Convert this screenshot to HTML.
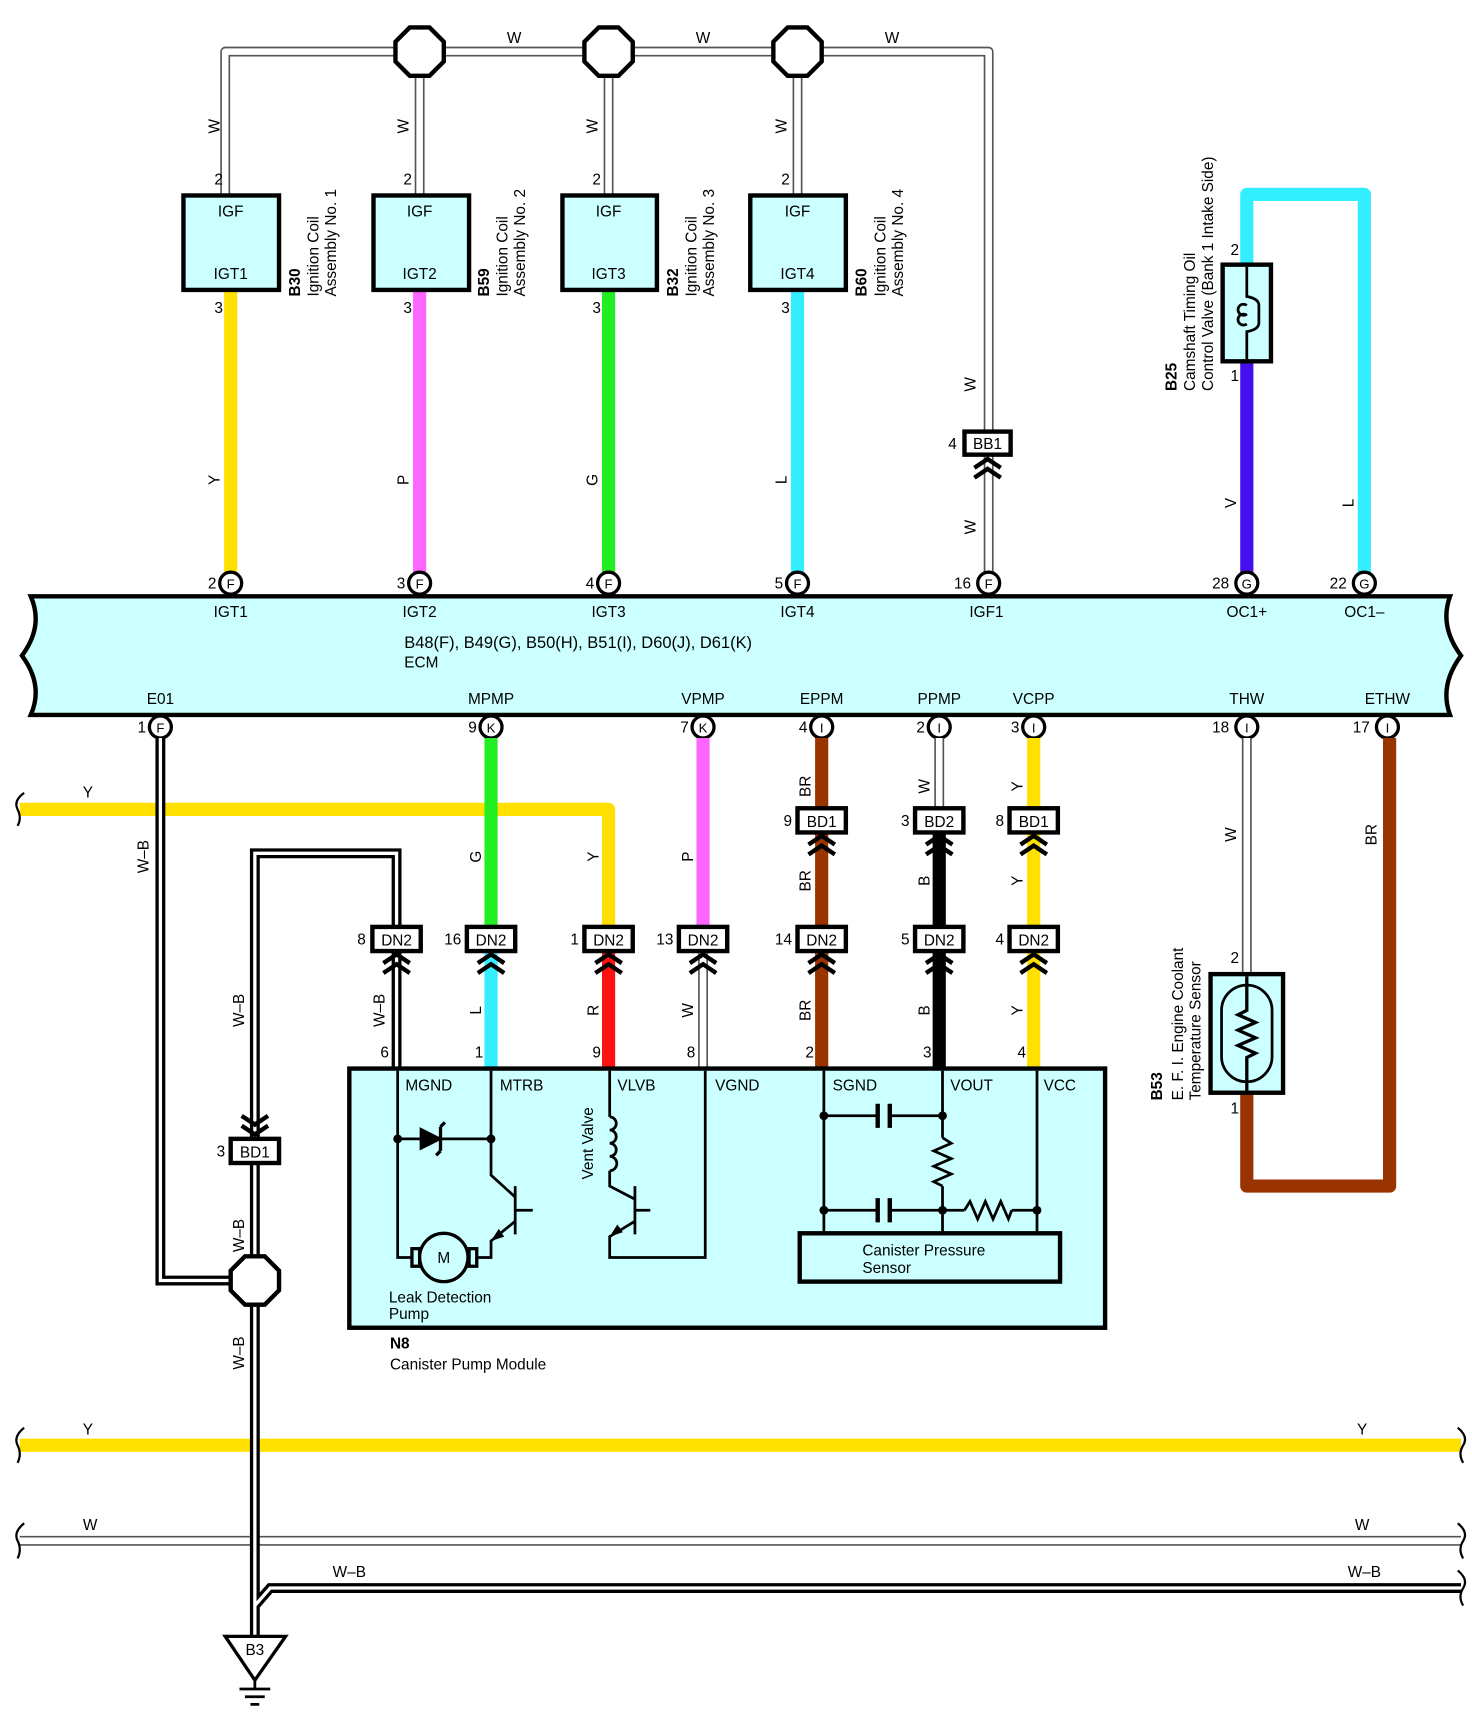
<!DOCTYPE html>
<html><head><meta charset="utf-8"><style>
html,body{margin:0;padding:0;background:#fff;}
svg{display:block;}
text{font-family:"Liberation Sans",sans-serif;font-size:14px;fill:#000;}
.c{text-anchor:middle;}
.e{text-anchor:end;}
.b{font-weight:bold;}
</style></head><body>
<svg width="1472" height="1722" viewBox="0 0 1340 1568" preserveAspectRatio="none" xmlns="http://www.w3.org/2000/svg">
<defs>
<g id="chev" fill="none" stroke="#000" stroke-width="4"><polyline points="-12,8 0,0 12,8"/><polyline points="-12,17 0,9 12,17"/></g>
<g id="chevd" fill="none" stroke="#000" stroke-width="4"><polyline points="-12,0 0,8 12,0"/><polyline points="-12,9 0,17 12,9"/></g>
</defs>

<!-- Top white wire -->
<g fill="none" stroke-linejoin="round">
<path d="M205,178 V47 H900 V393 M382,47 V178 M554,47 V178 M726,47 V178 M900,413 V531" stroke="#555" stroke-width="9"/>
<path d="M205,178 V47 H900 V393 M382,47 V178 M554,47 V178 M726,47 V178 M900,413 V531" stroke="#fff" stroke-width="6"/>
</g>
<!-- colored top wires -->
<g fill="none" stroke-width="12">
<path d="M210,264 V531" stroke="#FFE000"/>
<path d="M382,264 V531" stroke="#FF66FF"/>
<path d="M554,264 V531" stroke="#22EE22"/>
<path d="M726,264 V531" stroke="#33EEFF"/>
<path d="M1135,241 V177 H1242 V531" stroke="#33EEFF" stroke-linejoin="round"/>
<path d="M1135,329 V531" stroke="#4411EE"/>
</g>
<!-- splices -->
<g fill="#fff" stroke="#000" stroke-width="4">
<polygon points="373,25 391,25 404,38 404,56 391,69 373,69 360,56 360,38"/>
<polygon points="545,25 563,25 576,38 576,56 563,69 545,69 532,56 532,38"/>
<polygon points="717,25 735,25 748,38 748,56 735,69 717,69 704,56 704,38"/>
</g>
<text x="468" y="39" class="c">W</text><text x="640" y="39" class="c">W</text><text x="812" y="39" class="c">W</text>

<!-- coils -->
<g fill="#CCFFFF" stroke="#000" stroke-width="4">
<rect x="167" y="178" width="87" height="86"/><rect x="340" y="178" width="87" height="86"/>
<rect x="512" y="178" width="86" height="86"/><rect x="683" y="178" width="87" height="86"/>
</g>
<text x="210" y="197" class="c">IGF</text><text x="210" y="254" class="c">IGT1</text>
<text x="382" y="197" class="c">IGF</text><text x="382" y="254" class="c">IGT2</text>
<text x="554" y="197" class="c">IGF</text><text x="554" y="254" class="c">IGT3</text>
<text x="726" y="197" class="c">IGF</text><text x="726" y="254" class="c">IGT4</text>
<g>
<text x="203" y="168" class="e">2</text><text x="203" y="285" class="e">3</text>
<text x="375" y="168" class="e">2</text><text x="375" y="285" class="e">3</text>
<text x="547" y="168" class="e">2</text><text x="547" y="285" class="e">3</text>
<text x="719" y="168" class="e">2</text><text x="719" y="285" class="e">3</text>
</g>
<g class="c">
<text transform="translate(200,115) rotate(-90)" class="c">W</text><text transform="translate(200,437) rotate(-90)" class="c">Y</text>
<text transform="translate(372,115) rotate(-90)" class="c">W</text><text transform="translate(372,437) rotate(-90)" class="c">P</text>
<text transform="translate(544,115) rotate(-90)" class="c">W</text><text transform="translate(544,437) rotate(-90)" class="c">G</text>
<text transform="translate(716,115) rotate(-90)" class="c">W</text><text transform="translate(716,437) rotate(-90)" class="c">L</text>
<text transform="translate(888,350) rotate(-90)" class="c">W</text><text transform="translate(888,480) rotate(-90)" class="c">W</text>
<text transform="translate(1125,458) rotate(-90)" class="c">V</text><text transform="translate(1232,458) rotate(-90)" class="c">L</text>
</g>
<!-- coil labels -->
<g>
<text transform="translate(273,270) rotate(-90)" class="b">B30</text>
<text transform="translate(290,270) rotate(-90)">Ignition Coil</text>
<text transform="translate(306,270) rotate(-90)">Assembly No. 1</text>
<text transform="translate(445,270) rotate(-90)" class="b">B59</text>
<text transform="translate(462,270) rotate(-90)">Ignition Coil</text>
<text transform="translate(478,270) rotate(-90)">Assembly No. 2</text>
<text transform="translate(617,270) rotate(-90)" class="b">B32</text>
<text transform="translate(634,270) rotate(-90)">Ignition Coil</text>
<text transform="translate(650,270) rotate(-90)">Assembly No. 3</text>
<text transform="translate(789,270) rotate(-90)" class="b">B60</text>
<text transform="translate(806,270) rotate(-90)">Ignition Coil</text>
<text transform="translate(822,270) rotate(-90)">Assembly No. 4</text>
<text transform="translate(1071,356) rotate(-90)" class="b">B25</text>
<text transform="translate(1088,356) rotate(-90)">Camshaft Timing Oil</text>
<text transform="translate(1104,356) rotate(-90)">Control Valve (Bank 1 Intake Side)</text>
</g>
<!-- BB1 -->
<rect x="878" y="393" width="42" height="21" fill="#fff" stroke="#000" stroke-width="4"/>
<text x="899" y="409" class="c">BB1</text><text x="871" y="409" class="e">4</text>
<use href="#chev" x="899" y="418"/>
<!-- B25 -->
<rect x="1113" y="241" width="44" height="88" fill="#CCFFFF" stroke="#000" stroke-width="4"/>
<path d="M1135,243 V270 Q1146,272 1146,278 M1135,327 V302 Q1146,300 1146,294 M1146,278 V294 M1135,278 a5,5 0 1,0 0,8 M1135,287 a5,5 0 1,0 0,8" fill="none" stroke="#000" stroke-width="2.5"/>
<text x="1128" y="232" class="e">2</text><text x="1128" y="347" class="e">1</text>

<!-- ECM -->
<path d="M28,543 H1320 Q1310,570 1330,597 Q1310,624 1320,651 H28 Q40,624 20,597 Q40,570 28,543 Z" fill="#CCFFFF" stroke="#000" stroke-width="4"/>
<g fill="#fff" stroke="#000" stroke-width="3">
<circle cx="210" cy="531" r="10"/><circle cx="382" cy="531" r="10"/><circle cx="554" cy="531" r="10"/><circle cx="726" cy="531" r="10"/><circle cx="900" cy="531" r="10"/><circle cx="1135" cy="531" r="10"/><circle cx="1242" cy="531" r="10"/>
<circle cx="146" cy="662" r="10"/><circle cx="447" cy="662" r="10"/><circle cx="640" cy="662" r="10"/><circle cx="748" cy="662" r="10"/><circle cx="855" cy="662" r="10"/><circle cx="941" cy="662" r="10"/><circle cx="1135" cy="662" r="10"/><circle cx="1263" cy="662" r="10"/>
</g>
<g style="font-size:12px">
<text x="210" y="536" class="c" style="font-size:12px">F</text><text x="382" y="536" class="c" style="font-size:12px">F</text><text x="554" y="536" class="c" style="font-size:12px">F</text><text x="726" y="536" class="c" style="font-size:12px">F</text><text x="900" y="536" class="c" style="font-size:12px">F</text><text x="1135" y="536" class="c" style="font-size:12px">G</text><text x="1242" y="536" class="c" style="font-size:12px">G</text>
<text x="146" y="667" class="c" style="font-size:12px">F</text><text x="447" y="667" class="c" style="font-size:12px">K</text><text x="640" y="667" class="c" style="font-size:12px">K</text><text x="748" y="667" class="c" style="font-size:12px">I</text><text x="855" y="667" class="c" style="font-size:12px">I</text><text x="941" y="667" class="c" style="font-size:12px">I</text><text x="1135" y="667" class="c" style="font-size:12px">I</text><text x="1263" y="667" class="c" style="font-size:12px">I</text>
</g>
<text x="197" y="536" class="e">2</text><text x="369" y="536" class="e">3</text><text x="541" y="536" class="e">4</text><text x="713" y="536" class="e">5</text><text x="884" y="536" class="e">16</text><text x="1119" y="536" class="e">28</text><text x="1226" y="536" class="e">22</text>
<text x="133" y="667" class="e">1</text><text x="434" y="667" class="e">9</text><text x="627" y="667" class="e">7</text><text x="735" y="667" class="e">4</text><text x="842" y="667" class="e">2</text><text x="928" y="667" class="e">3</text><text x="1119" y="667" class="e">18</text><text x="1247" y="667" class="e">17</text>
<text x="210" y="562" class="c">IGT1</text><text x="382" y="562" class="c">IGT2</text><text x="554" y="562" class="c">IGT3</text><text x="726" y="562" class="c">IGT4</text><text x="898" y="562" class="c">IGF1</text><text x="1135" y="562" class="c">OC1+</text><text x="1242" y="562" class="c">OC1–</text>
<text x="368" y="590" style="font-size:15px">B48(F), B49(G), B50(H), B51(I), D60(J), D61(K)</text>
<text x="368" y="608">ECM</text>
<text x="146" y="641" class="c">E01</text><text x="447" y="641" class="c">MPMP</text><text x="640" y="641" class="c">VPMP</text><text x="748" y="641" class="c">EPPM</text><text x="855" y="641" class="c">PPMP</text><text x="941" y="641" class="c">VCPP</text><text x="1135" y="641" class="c">THW</text><text x="1263" y="641" class="c">ETHW</text>

<!-- lower colored wires -->
<g fill="none" stroke-width="12" stroke-linejoin="round">
<path d="M18,737 H554 V845" stroke="#FFE000"/>
<path d="M447,672 V845" stroke="#22EE22"/>
<path d="M447,866 V973" stroke="#33EEFF"/>
<path d="M554,866 V973" stroke="#FF1111"/>
<path d="M640,672 V845" stroke="#FF66FF"/>
<path d="M748,672 V973" stroke="#993300"/>
<path d="M855,757 V973" stroke="#000"/>
<path d="M941,672 V973" stroke="#FFE000"/>
<path d="M1135,995 V1080 H1265 V672" stroke="#993300"/>
<path d="M18,1316 H1330" stroke="#FFE000"/>
</g>
<!-- white wires lower -->
<g fill="none">
<path d="M855,672 V737 M640,866 V973 M1135,672 V887 M18,1403 H1330" stroke="#555" stroke-width="9"/>
<path d="M855,672 V737 M640,866 V973 M1135,672 V887 M18,1403 H1330" stroke="#fff" stroke-width="6"/>
</g>
<!-- W-B wires -->
<g fill="none" stroke-linejoin="miter">
<path d="M146,672 V1166 H210 M361,973 V777 H232 V1490 M232,1462 L246,1446 H1330" stroke="#000" stroke-width="9"/>
<path d="M146,672 V1166 H210 M361,973 V777 H232 V1490 M232,1462 L246,1446 H1330" stroke="#fff" stroke-width="3"/>
</g>
<!-- splice lower -->
<polygon points="223,1144 241,1144 254,1157 254,1175 241,1188 223,1188 210,1175 210,1157" fill="#fff" stroke="#000" stroke-width="4"/>

<!-- connectors -->
<g fill="#fff" stroke="#000" stroke-width="4">
<rect x="339" y="844" width="44" height="22"/><rect x="425" y="844" width="44" height="22"/><rect x="532" y="844" width="44" height="22"/><rect x="618" y="844" width="44" height="22"/><rect x="726" y="844" width="44" height="22"/><rect x="833" y="844" width="44" height="22"/><rect x="919" y="844" width="44" height="22"/>
<rect x="726" y="736" width="44" height="22"/><rect x="833" y="736" width="44" height="22"/><rect x="919" y="736" width="44" height="22"/>
<rect x="210" y="1037" width="44" height="22"/>
</g>
<g class="c">
<text x="361" y="861" class="c">DN2</text><text x="447" y="861" class="c">DN2</text><text x="554" y="861" class="c">DN2</text><text x="640" y="861" class="c">DN2</text><text x="748" y="861" class="c">DN2</text><text x="855" y="861" class="c">DN2</text><text x="941" y="861" class="c">DN2</text>
<text x="748" y="753" class="c">BD1</text><text x="855" y="753" class="c">BD2</text><text x="941" y="753" class="c">BD1</text><text x="232" y="1054" class="c">BD1</text>
</g>
<text x="333" y="860" class="e">8</text><text x="420" y="860" class="e">16</text><text x="527" y="860" class="e">1</text><text x="613" y="860" class="e">13</text><text x="721" y="860" class="e">14</text><text x="828" y="860" class="e">5</text><text x="914" y="860" class="e">4</text>
<text x="721" y="752" class="e">9</text><text x="828" y="752" class="e">3</text><text x="914" y="752" class="e">8</text><text x="205" y="1053" class="e">3</text>
<use href="#chev" x="361" y="869"/><use href="#chev" x="447" y="869"/><use href="#chev" x="554" y="869"/><use href="#chev" x="640" y="869"/><use href="#chev" x="748" y="869"/><use href="#chev" x="855" y="869"/><use href="#chev" x="941" y="869"/>
<use href="#chev" x="748" y="761"/><use href="#chev" x="855" y="761"/><use href="#chev" x="941" y="761"/>
<use href="#chevd" x="232" y="1016"/>

<!-- wire labels lower -->
<text x="80" y="726" class="c">Y</text>
<g>
<text transform="translate(135,780) rotate(-90)" class="c">W–B</text>
<text transform="translate(222,920) rotate(-90)" class="c">W–B</text>
<text transform="translate(222,1125) rotate(-90)" class="c">W–B</text>
<text transform="translate(222,1232) rotate(-90)" class="c">W–B</text>
<text transform="translate(350,920) rotate(-90)" class="c">W–B</text>
<text transform="translate(438,920) rotate(-90)" class="c">L</text>
<text transform="translate(545,920) rotate(-90)" class="c">R</text>
<text transform="translate(631,920) rotate(-90)" class="c">W</text>
<text transform="translate(738,920) rotate(-90)" class="c">BR</text>
<text transform="translate(846,920) rotate(-90)" class="c">B</text>
<text transform="translate(931,920) rotate(-90)" class="c">Y</text>
<text transform="translate(438,780) rotate(-90)" class="c">G</text>
<text transform="translate(545,780) rotate(-90)" class="c">Y</text>
<text transform="translate(631,780) rotate(-90)" class="c">P</text>
<text transform="translate(738,716) rotate(-90)" class="c">BR</text>
<text transform="translate(738,802) rotate(-90)" class="c">BR</text>
<text transform="translate(846,716) rotate(-90)" class="c">W</text>
<text transform="translate(846,802) rotate(-90)" class="c">B</text>
<text transform="translate(931,716) rotate(-90)" class="c">Y</text>
<text transform="translate(931,802) rotate(-90)" class="c">Y</text>
<text transform="translate(1125,760) rotate(-90)" class="c">W</text>
<text transform="translate(1253,760) rotate(-90)" class="c">BR</text>
</g>

<!-- module -->
<rect x="318" y="973" width="688" height="236" fill="#CCFFFF" stroke="#000" stroke-width="4"/>
<g fill="none" stroke="#000" stroke-width="2.5">
<path d="M362,975 V1145 H375 M447,975 V1070 L469,1090 M469,1112 L447,1130 V1145 H434 M469,1080 V1124 M469,1102 H485"/>
<path d="M362,1037 H447"/>
<path d="M555,975 V1017 M555,1066 V1080 L578,1092 M578,1112 L555,1126 V1145 H642 V975 M578,1080 V1124 M578,1102 H592"/>
<path d="M555,1017 a6,6 0 1,1 0,12 a6,6 0 1,1 0,12 a6,6 0 1,1 0,12 a6,6 0 0,1 0,13"/>
<path d="M750,975 V1123 M858,975 V1036 M858,1080 V1123 M944,975 V1123 M750,1016 H799 M810,1016 H858 M750,1102 H799 M810,1102 H858 M858,1102 H878 M921,1102 H944"/>
<path d="M858,1036 l8,5 -16,7 16,7 -16,7 16,7 -16,7 8,4"/>
<path d="M878,1102 l5,-8 7,16 7,-16 7,16 7,-16 7,16 3,-8"/>
</g>
<g stroke="#000" stroke-width="4"><path d="M799,1005 V1027 M810,1005 V1027 M799,1091 V1113 M810,1091 V1113"/></g>
<polygon points="383,1028 383,1046 401,1037" fill="#000" stroke="#000" stroke-width="2"/>
<path d="M401,1026 V1048 M401,1026 l4,-4 M401,1048 l-4,4" stroke="#000" stroke-width="3" fill="none"/>
<polygon points="447,1130 454,1119 459,1126" fill="#000"/>
<polygon points="555,1126 562,1115 567,1122" fill="#000"/>
<g fill="#000"><circle cx="362" cy="1037" r="4"/><circle cx="447" cy="1037" r="4"/><circle cx="750" cy="1016" r="4"/><circle cx="858" cy="1016" r="4"/><circle cx="750" cy="1102" r="4"/><circle cx="858" cy="1102" r="4"/><circle cx="944" cy="1102" r="4"/></g>
<!-- motor -->
<rect x="375" y="1137" width="7" height="16" fill="none" stroke="#000" stroke-width="3"/>
<rect x="427" y="1137" width="7" height="16" fill="none" stroke="#000" stroke-width="3"/>
<circle cx="404" cy="1145" r="22" fill="#CCFFFF" stroke="#000" stroke-width="3"/>
<text x="404" y="1150" class="c">M</text>
<rect x="728" y="1123" width="237" height="44" fill="#CCFFFF" stroke="#000" stroke-width="4"/>
<text x="785" y="1143">Canister Pressure</text><text x="785" y="1159">Sensor</text>
<text x="369" y="993">MGND</text><text x="455" y="993">MTRB</text><text x="562" y="993">VLVB</text><text x="651" y="993">VGND</text><text x="758" y="993">SGND</text><text x="865" y="993">VOUT</text><text x="950" y="993">VCC</text>
<text transform="translate(540,1074) rotate(-90)">Vent Valve</text>
<text x="354" y="1186">Leak Detection</text><text x="354" y="1201">Pump</text>
<text x="355" y="1228" class="b">N8</text><text x="355" y="1247">Canister Pump Module</text>
<text x="354" y="963" class="e">6</text><text x="440" y="963" class="e">1</text><text x="547" y="963" class="e">9</text><text x="633" y="963" class="e">8</text><text x="741" y="963" class="e">2</text><text x="848" y="963" class="e">3</text><text x="934" y="963" class="e">4</text>

<!-- B53 -->
<rect x="1102" y="887" width="66" height="108" fill="#CCFFFF" stroke="#000" stroke-width="4"/>
<rect x="1112" y="897" width="46" height="88" rx="23" fill="none" stroke="#000" stroke-width="2.5"/>
<path d="M1135,889 V920 l-8,4 16,7 -16,7 16,7 -16,7 16,7 -8,4 V993" fill="none" stroke="#000" stroke-width="3"/>
<text x="1128" y="877" class="e">2</text><text x="1128" y="1014" class="e">1</text>
<text transform="translate(1058,1002) rotate(-90)" class="b">B53</text>
<text transform="translate(1077,1002) rotate(-90)">E. F. I.  Engine Coolant</text>
<text transform="translate(1093,1002) rotate(-90)">Temperature Sensor</text>

<!-- bus labels -->
<text x="80" y="1306" class="c">Y</text><text x="1240" y="1306" class="c">Y</text>
<text x="82" y="1393" class="c">W</text><text x="1240" y="1393" class="c">W</text>
<text x="318" y="1436" class="c">W–B</text><text x="1242" y="1436" class="c">W–B</text>
<!-- braces -->
<g fill="none" stroke="#000" stroke-width="2">
<path d="M22,722 Q12,729 16,737 Q20,745 16,752 M22,1300 Q12,1308 16,1316 Q20,1324 16,1332 M22,1387 Q12,1395 16,1403 Q20,1411 16,1419"/>
<path d="M1327,1300 Q1337,1308 1332,1316 Q1327,1324 1332,1332 M1327,1387 Q1337,1395 1332,1403 Q1327,1411 1332,1419 M1327,1430 Q1337,1438 1332,1446 Q1327,1454 1332,1462"/>
</g>
<!-- ground -->
<polygon points="205,1490 260,1490 232,1530" fill="#fff" stroke="#000" stroke-width="3"/>
<text x="232" y="1507" class="c">B3</text>
<path d="M232,1530 V1538 M218,1538 H246 M223,1545 H241 M228,1552 H236" stroke="#000" stroke-width="2.5"/>
</svg>
</body></html>
